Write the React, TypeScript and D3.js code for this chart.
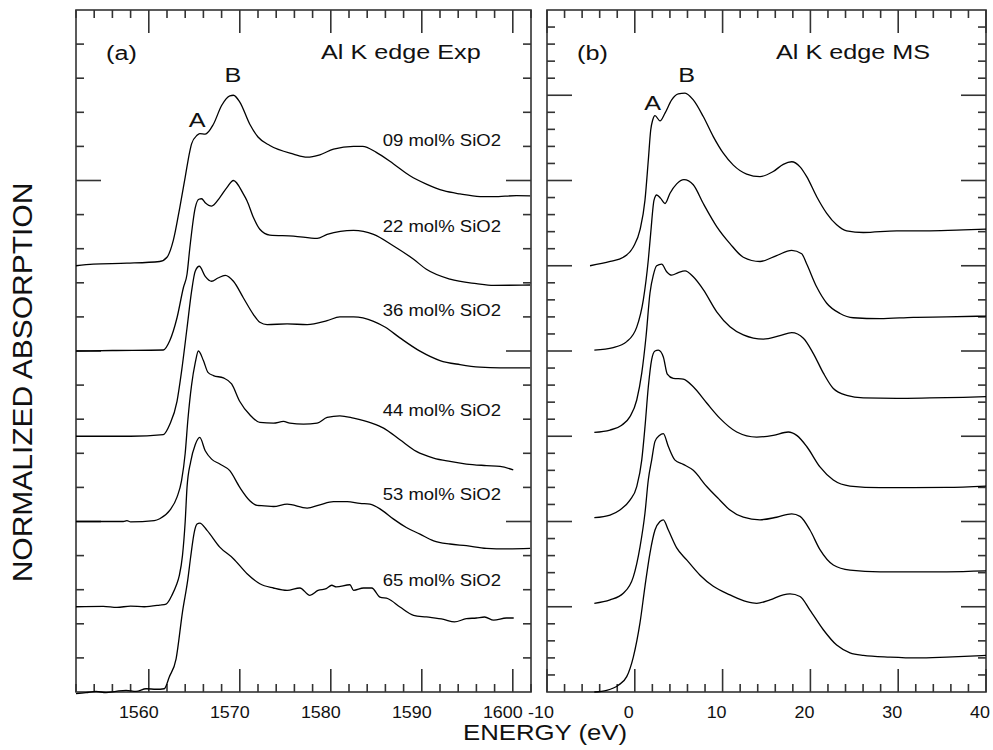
import * as d3 from "d3";

const FONT = "'Liberation Sans', Arial, Helvetica, sans-serif";

// Experimental Al K edge spectra: [energy (eV), normalized absorption]
const exp09 = [
  [1552, 0.0], [1553.9, 0.01], [1557.6, 0.015], [1561.2, 0.025], [1562.0, 0.05],
  [1562.7, 0.15], [1563.4, 0.34], [1564.0, 0.52], [1564.5, 0.67], [1564.7, 0.715],
  [1565.3, 0.765], [1565.6, 0.775], [1566.2, 0.772], [1567.1, 0.83], [1568.0, 0.94],
  [1568.9, 0.997], [1569.3, 1.0], [1570.0, 0.96], [1571.1, 0.83], [1572.0, 0.755],
  [1573.3, 0.705], [1575.9, 0.655], [1577.4, 0.637], [1578.8, 0.651], [1580.3, 0.684],
  [1582.5, 0.7], [1583.5, 0.7], [1585.0, 0.665], [1586.9, 0.597], [1588.7, 0.528],
  [1590.5, 0.479], [1592.4, 0.44], [1594.2, 0.421], [1596.4, 0.406], [1597.9, 0.405],
  [1600.4, 0.411], [1601.9, 0.41],
];
const exp22 = [
  [1552, 0.0], [1556, 0.003], [1561.6, 0.006], [1562.3, 0.06], [1563.1, 0.195],
  [1563.8, 0.371], [1564.2, 0.45], [1564.5, 0.6], [1565.1, 0.84], [1565.5, 0.89],
  [1565.8, 0.893], [1566.2, 0.87], [1566.9, 0.85], [1567.8, 0.9], [1568.6, 0.96],
  [1569.3, 1.0], [1570.4, 0.92], [1570.8, 0.88], [1571.5, 0.783], [1572.2, 0.714],
  [1573.3, 0.68], [1575.9, 0.674], [1578.5, 0.66], [1579.6, 0.684], [1582.5, 0.708],
  [1584.7, 0.684], [1586.9, 0.616], [1589.1, 0.538], [1590.5, 0.479], [1593.1, 0.421],
  [1596.0, 0.395], [1597.9, 0.385], [1601.9, 0.387],
];
const exp36 = [
  [1552, 0.0], [1558, 0.0], [1561.6, 0.01], [1562.3, 0.069], [1563.1, 0.205],
  [1563.6, 0.381], [1564.2, 0.635], [1564.7, 0.85], [1565.1, 0.968], [1565.55, 0.997],
  [1566.2, 0.938], [1566.9, 0.909], [1567.6, 0.928], [1568.4, 0.943], [1569.3, 0.909],
  [1570.4, 0.811], [1571.5, 0.714], [1572.2, 0.669], [1573.0, 0.655], [1575.2, 0.659],
  [1577.4, 0.655], [1579.6, 0.678], [1581.0, 0.7], [1582.5, 0.7], [1584.7, 0.674],
  [1586.0, 0.639], [1587.6, 0.577], [1589.8, 0.499], [1592.0, 0.444], [1594.2, 0.42],
  [1596.4, 0.405], [1598.6, 0.401], [1601.9, 0.401],
];
const exp44 = [
  [1552, 0.0], [1557.2, 0.0], [1557.6, 0.005], [1558.0, -0.002], [1560.6, 0.005],
  [1561.2, 0.016], [1562.3, 0.065], [1563.1, 0.143], [1563.6, 0.24], [1564.0, 0.4],
  [1564.3, 0.6], [1564.7, 0.8], [1565.1, 0.93], [1565.45, 1.0], [1566.0, 0.944],
  [1566.5, 0.875], [1567.1, 0.856], [1568.2, 0.842], [1569.1, 0.807], [1570.0, 0.704],
  [1571.1, 0.626], [1572.2, 0.581], [1573.7, 0.577], [1574.8, 0.587], [1575.5, 0.577],
  [1577.0, 0.571], [1578.5, 0.577], [1579.6, 0.61], [1581.0, 0.62], [1582.5, 0.606],
  [1584.5, 0.577], [1585.8, 0.548], [1587.6, 0.479], [1589.4, 0.411], [1591.3, 0.372],
  [1593.1, 0.352], [1594.9, 0.337], [1597.1, 0.328], [1598.6, 0.323], [1600.05, 0.303],
];
const exp53 = [
  [1552, 0.0], [1555, 0.002], [1556.5, -0.004], [1558, 0.004], [1559.5, 0.0],
  [1561.2, 0.01], [1561.9, 0.016], [1562.6, 0.074], [1563.0, 0.123], [1563.35, 0.182],
  [1563.7, 0.3], [1564.0, 0.5], [1564.2, 0.7], [1564.6, 0.85], [1565.1, 0.95],
  [1565.6, 0.993], [1566.2, 0.915], [1566.9, 0.866], [1567.8, 0.837], [1568.9, 0.798],
  [1570.0, 0.7], [1571.1, 0.622], [1571.9, 0.594], [1572.7, 0.592], [1573.7, 0.588],
  [1575.2, 0.602], [1577.4, 0.579], [1578.8, 0.598], [1580.3, 0.616], [1581.8, 0.616],
  [1583.2, 0.606], [1584.3, 0.602], [1585.6, 0.567], [1586.9, 0.514], [1588.3, 0.465],
  [1589.8, 0.426], [1591.3, 0.387], [1593.1, 0.368], [1594.9, 0.358], [1597.1, 0.342],
  [1599.3, 0.339], [1601.9, 0.342],
];
const exp65 = [
  [1552, -0.01], [1553.1, -0.004], [1554.2, 0.004], [1555.3, -0.004], [1556.4, 0.004],
  [1557.5, 0.01], [1558.6, 0.004], [1559.7, 0.019], [1560.8, 0.016], [1561.7, 0.019],
  [1562.25, 0.088], [1563.0, 0.195], [1563.7, 0.469], [1564.3, 0.665], [1564.6, 0.792],
  [1565.0, 0.938], [1565.3, 0.985], [1565.6, 0.991], [1566.4, 0.948], [1567.8, 0.85],
  [1569.3, 0.782], [1570.8, 0.694], [1572.2, 0.635], [1573.7, 0.61], [1575.2, 0.596],
  [1576.6, 0.61], [1577.7, 0.567], [1578.6, 0.596], [1579.5, 0.606], [1580.1, 0.626],
  [1580.6, 0.616], [1582.1, 0.629], [1582.5, 0.596], [1583.6, 0.61], [1584.5, 0.61],
  [1585.4, 0.557], [1586.3, 0.547], [1587.6, 0.499], [1589.1, 0.45], [1590.5, 0.44],
  [1592.4, 0.426], [1593.6, 0.411], [1594.9, 0.43], [1596.0, 0.434], [1596.9, 0.44],
  [1597.9, 0.421], [1599.3, 0.434], [1600.1, 0.434],
];
const expSeries = [exp09, exp22, exp36, exp44, exp53, exp65];
const expOffsets = [2.5, 2, 1.5, 1, 0.5, 0];
const expLabels = [
  "09 mol% SiO2", "22 mol% SiO2", "36 mol% SiO2",
  "44 mol% SiO2", "53 mol% SiO2", "65 mol% SiO2",
];
const expLabelY = [3.2, 2.7, 2.205, 1.62, 1.127, 0.622];
const expLabelX = 1585.7;

// Multiple scattering calculations: [energy (eV), absorption]
const ms1 = [
  [-5.1, 0.0], [-2.8, 0.05], [-1.3, 0.1], [-0.17, 0.22], [0.59, 0.42], [1.16, 0.77],
  [1.54, 1.24], [1.81, 1.59], [2.04, 1.71], [2.3, 1.76], [2.87, 1.7], [3.44, 1.79],
  [4.2, 1.945], [4.95, 2.015], [5.72, 2.025], [6.66, 1.945], [7.8, 1.75], [8.94, 1.515],
  [10.08, 1.32], [11.22, 1.18], [12.74, 1.075], [14.26, 1.045], [15.77, 1.105],
  [16.91, 1.19], [17.87, 1.22], [18.82, 1.16], [19.58, 1.045], [20.72, 0.81],
  [21.86, 0.615], [22.99, 0.48], [24.13, 0.41], [26.03, 0.39], [29.83, 0.41],
  [33.62, 0.41], [37.42, 0.42], [40, 0.43],
];
const ms2 = [
  [-4.61, 0.01], [-2.45, 0.04], [-0.92, 0.11], [0.22, 0.28], [0.97, 0.6], [1.54, 1.07],
  [1.81, 1.38], [2.19, 1.77], [2.49, 1.83], [2.95, 1.79], [3.44, 1.73], [4.01, 1.85],
  [4.77, 1.96], [5.6, 2.01], [6.66, 1.95], [7.8, 1.73], [9.33, 1.46], [10.84, 1.26],
  [12.36, 1.1], [14.26, 1.05], [16.15, 1.12], [17.87, 1.18], [19.01, 1.14], [19.58, 1.02],
  [20.72, 0.75], [21.86, 0.56], [23.37, 0.44], [24.89, 0.39], [27.93, 0.38],
  [31.72, 0.395], [35.52, 0.4], [40, 0.41],
];
const ms3 = [
  [-4.61, 0.046], [-2.82, 0.073], [-1.49, 0.13], [-0.55, 0.23], [0.22, 0.425], [0.79, 0.74],
  [1.28, 1.17], [1.73, 1.68], [2.11, 1.89], [2.49, 2.0], [3.06, 2.02], [3.63, 1.93],
  [4.2, 1.89], [4.95, 1.92], [5.72, 1.94], [6.66, 1.87], [7.8, 1.72], [9.33, 1.46],
  [10.84, 1.285], [12.36, 1.19], [14.64, 1.14], [16.53, 1.18], [17.87, 1.215], [19.2, 1.15],
  [20.34, 0.97], [21.48, 0.74], [22.61, 0.56], [24.13, 0.48], [26.03, 0.45],
  [29.83, 0.445], [33.62, 0.45], [37.42, 0.457], [40, 0.464],
];
const ms4 = [
  [-4.61, 0.045], [-2.82, 0.076], [-1.69, 0.135], [-0.55, 0.25], [0.22, 0.41], [0.79, 0.72],
  [1.16, 1.11], [1.54, 1.58], [1.92, 1.9], [2.3, 2.0], [2.68, 2.01], [3.25, 1.93],
  [3.7, 1.73], [4.38, 1.68], [5.52, 1.67], [6.66, 1.58], [8.19, 1.39], [9.7, 1.21],
  [11.61, 1.05], [13.88, 0.99], [15.77, 1.01], [17.48, 1.05], [18.44, 1.01], [19.58, 0.88],
  [21.09, 0.64], [22.61, 0.486], [24.51, 0.416], [27.93, 0.397], [31.72, 0.397],
  [35.52, 0.4], [40, 0.416],
];
const ms5 = [
  [-4.61, 0.04], [-2.82, 0.08], [-1.31, 0.158], [-0.17, 0.35], [0.59, 0.7], [1.16, 1.1],
  [1.54, 1.49], [1.92, 1.72], [2.3, 1.94], [2.8, 2.01], [3.25, 2.03], [3.82, 1.88],
  [4.58, 1.72], [5.52, 1.67], [6.66, 1.6], [8.19, 1.41], [9.7, 1.25], [10.84, 1.135],
  [12.36, 1.05], [14.26, 1.02], [16.15, 1.05], [17.87, 1.09], [18.82, 1.06], [19.95, 0.9],
  [21.09, 0.67], [22.61, 0.49], [24.51, 0.43], [27.93, 0.41], [31.72, 0.41],
  [35.52, 0.41], [40, 0.42],
];
const ms6 = [
  [-4.61, 0.0], [-3.2, 0.02], [-1.88, 0.08], [-0.92, 0.18], [-0.17, 0.41], [0.59, 0.81],
  [1.16, 1.24], [1.73, 1.63], [2.3, 1.9], [2.87, 2.0], [3.25, 2.02], [3.82, 1.9],
  [4.77, 1.69], [5.91, 1.55], [7.43, 1.37], [8.94, 1.24], [10.84, 1.14], [12.74, 1.06],
  [13.88, 1.04], [15.4, 1.08], [16.91, 1.14], [17.68, 1.15], [18.82, 1.12], [19.95, 0.96],
  [21.47, 0.73], [22.99, 0.55], [24.51, 0.46], [26.03, 0.43], [29.07, 0.41],
  [32.11, 0.4], [35.52, 0.41], [40, 0.43],
];
const msSeries = [ms1, ms2, ms3, ms4, ms5, ms6];
const msOffsets = [5, 4, 3, 2, 1, 0];

const expTicks = [1560, 1570, 1580, 1590, 1600];
const msTicks = [-10, 0, 10, 20, 30, 40];

const FRAME = "#333";

function Label({ x, y, size, sx = 1.12, anchor = "start", rotate = 0, children }: any) {
  return (
    <text
      transform={`translate(${x},${y}) rotate(${rotate}) scale(${sx},1)`}
      fontSize={size}
      fontFamily={FONT}
      textAnchor={anchor}
      fill="#111"
    >
      {children}
    </text>
  );
}

function Frame({ xScale, yScale, xMajor, xStep, yStep, yMajorEvery, labels, labelShift }: any) {
  const [x0, x1] = xScale.range();
  const [y0, y1] = yScale.range();
  const [dx0, dx1] = xScale.domain();
  const [dy0, dy1] = yScale.domain();
  const xMinor = d3.range(Math.ceil(dx0 / xStep), Math.floor(dx1 / xStep) + 1).map((k) => k * xStep);
  const nY = Math.round((dy1 - dy0) / yStep);
  const yTicks = d3.range(1, nY).map((k) => ({ v: dy0 + k * yStep, major: k % yMajorEvery === 0 }));
  const majorLen = 23;
  const minorLen = 8;
  return (
    <g stroke={FRAME} strokeWidth={1.6} fill="none">
      <rect x={x0} y={y1} width={x1 - x0} height={y0 - y1} />
      {xMinor.map((t) => {
        const len = xMajor.includes(t) ? majorLen : minorLen;
        const x = xScale(t);
        return (
          <g key={"x" + t}>
            <line x1={x} x2={x} y1={y0} y2={y0 - len} />
            <line x1={x} x2={x} y1={y1} y2={y1 + len} />
          </g>
        );
      })}
      {yTicks.map((t) => {
        const len = t.major ? 25 : minorLen;
        const y = yScale(t.v);
        return (
          <g key={"y" + t.v}>
            <line x1={x0} x2={x0 + len} y1={y} y2={y} />
            <line x1={x1} x2={x1 - len} y1={y} y2={y} />
          </g>
        );
      })}
      <g stroke="none">
        {labels.map((t: number) => (
          <Label key={"l" + t} x={xScale(t) + labelShift} y={718.3} size={16} anchor="middle">
            {String(t)}
          </Label>
        ))}
      </g>
    </g>
  );
}

function App() {
  const top = 10;
  const bottom = 692;
  const xExp = d3.scaleLinear().domain([1552, 1602]).range([76, 531]);
  const yExp = d3.scaleLinear().domain([0, 4]).range([bottom, top]);
  const xMs = d3.scaleLinear().domain([-10, 40]).range([547, 986]);
  const yMs = d3.scaleLinear().domain([0, 8]).range([bottom, top]);

  const expLine = (off: number) =>
    d3
      .line<number[]>()
      .x((d) => xExp(d[0]))
      .y((d) => yExp(d[1] + off))
      .curve(d3.curveMonotoneX);
  const msLine = (off: number) =>
    d3
      .line<number[]>()
      .x((d) => xMs(d[0]))
      .y((d) => yMs(d[1] + off))
      .curve(d3.curveMonotoneX);

  return (
    <svg
      width={993}
      height={750}
      style={{ position: "absolute", left: 0, top: 0, background: "#fff" }}
    >
      <Frame
        xScale={xExp}
        yScale={yExp}
        xMajor={expTicks}
        xStep={2}
        yStep={0.2}
        yMajorEvery={5}
        labels={expTicks}
        labelShift={-10}
      />
      <Frame
        xScale={xMs}
        yScale={yMs}
        xMajor={msTicks}
        xStep={2}
        yStep={0.2}
        yMajorEvery={5}
        labels={msTicks}
        labelShift={-6}
      />

      <g fill="none" stroke="#000" strokeWidth={1.3} strokeLinejoin="round">
        {expSeries.map((s, i) => (
          <path key={"e" + i} d={expLine(expOffsets[i])(s) as string} />
        ))}
        {msSeries.map((s, i) => (
          <path key={"m" + i} d={msLine(msOffsets[i])(s) as string} />
        ))}
      </g>

      {expLabels.map((t, i) => (
        <Label key={t} x={xExp(expLabelX)} y={yExp(expLabelY[i])} size={17} sx={1.09}>
          {t}
        </Label>
      ))}

      <Label x={106} y={60} size={21} sx={1.2}>(a)</Label>
      <Label x={321} y={59} size={21} sx={1.2}>Al K edge Exp</Label>
      <Label x={xExp(1565.3)} y={yExp(3.312)} size={21} sx={1.2} anchor="middle">A</Label>
      <Label x={xExp(1569.25)} y={yExp(3.58)} size={21} sx={1.2} anchor="middle">B</Label>

      <Label x={577} y={60} size={21} sx={1.2}>(b)</Label>
      <Label x={776} y={59} size={21} sx={1.2}>Al K edge MS</Label>
      <Label x={xMs(2.02)} y={yMs(6.83)} size={21} sx={1.2} anchor="middle">A</Label>
      <Label x={xMs(5.91)} y={yMs(7.16)} size={21} sx={1.2} anchor="middle">B</Label>

      <Label x={545} y={740} size={23} anchor="middle">ENERGY (eV)</Label>
      <Label x={31.7} y={382.5} size={27} sx={1.11} rotate={-90} anchor="middle">
        NORMALIZED ABSORPTION
      </Label>
    </svg>
  );
}

export default App;
